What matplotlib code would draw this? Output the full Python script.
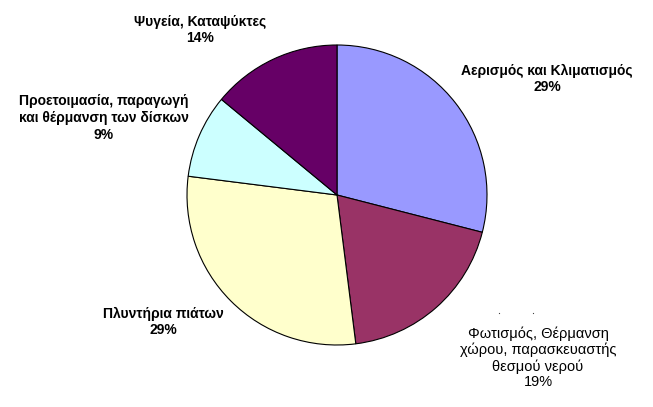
import matplotlib
matplotlib.use("Agg")
import matplotlib.pyplot as plt

# slices, clockwise from 12 o'clock
labels = [
    "Αερισμός και Κλιματισμός",
    "Φωτισμός, Θέρμανση\nχώρου, παρασκευαστής\nθεσμού νερού",
    "Πλυντήρια πιάτων",
    "Προετοιμασία, παραγωγή\nκαι θέρμανση των δίσκων",
    "Ψυγεία, Καταψύκτες",
]
shares = [29, 19, 29, 9, 14]
colors = ["#9999FF", "#993366", "#FFFFCC", "#CCFFFF", "#660066"]

W, H = 653, 407
fig = plt.figure(figsize=(W / 100, H / 100), dpi=100)
ax = fig.add_axes([0, 0, 1, 1])

ax.pie(shares, colors=colors, startangle=90, counterclock=False,
       center=(337, H - 195), radius=150,
       wedgeprops=dict(edgecolor="black", linewidth=0.8))

# pie() resets the limits, so set them afterwards
ax.set_xlim(0, W)
ax.set_ylim(0, H)
ax.set_aspect("equal")
ax.axis("off")

# label anchor points (x, y from top)
label_pos = [(547, 79), (538, 358), (163, 322), (104, 118), (200, 30)]
for i, (name, v, (x, y)) in enumerate(zip(labels, shares, label_pos)):
    bold = i != 1
    ax.text(x, H - y, f"{name}\n{v}%", ha="center", va="center",
            family="Liberation Sans",
            fontsize=10 if bold else 10.5,
            fontweight="bold" if bold else "normal",
            linespacing=1.25 if bold else 1.15, color="black")

# the two little leader-line specks above the lighting label
ax.plot([499, 533], [H - 313, H - 313], ls="none", marker="s",
        ms=0.8, mew=0, color="#444444")

plt.savefig("out.png", dpi=100, facecolor="white")
